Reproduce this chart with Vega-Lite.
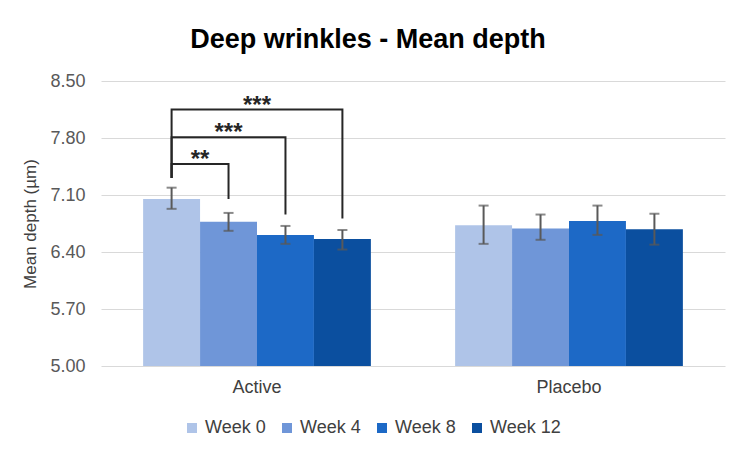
{
  "$schema": "https://vega.github.io/schema/vega-lite/v6.json",
  "width": 624,
  "height": 285,
  "autosize": {"type": "none"},
  "padding": {"left": 101, "top": 81, "right": 10, "bottom": 84},
  "config": {"view": {"stroke": null}, "font": "Liberation Sans"},
  "title": {"text": "Deep wrinkles - Mean depth", "fontSize": 27, "fontWeight": "bold", "font": "Liberation Sans", "color": "#000000", "anchor": "middle", "dx": -45, "offset": 18},
  "datasets": {
    "bars": [
      {"group": "Active", "week": "Week 0", "mean": 7.05, "lo": 6.93, "hi": 7.19},
      {"group": "Active", "week": "Week 4", "mean": 6.77, "lo": 6.66, "hi": 6.88},
      {"group": "Active", "week": "Week 8", "mean": 6.61, "lo": 6.50, "hi": 6.72},
      {"group": "Active", "week": "Week 12", "mean": 6.56, "lo": 6.43, "hi": 6.67},
      {"group": "Placebo", "week": "Week 0", "mean": 6.73, "lo": 6.50, "hi": 6.97},
      {"group": "Placebo", "week": "Week 4", "mean": 6.69, "lo": 6.55, "hi": 6.86},
      {"group": "Placebo", "week": "Week 8", "mean": 6.78, "lo": 6.61, "hi": 6.97},
      {"group": "Placebo", "week": "Week 12", "mean": 6.68, "lo": 6.49, "hi": 6.87}
    ],
    "brackets": [
      {"group": "Active", "bracket": "w4", "step": 1, "week": "Week 0", "y": 7.31},
      {"group": "Active", "bracket": "w4", "step": 2, "week": "Week 0", "y": 7.48},
      {"group": "Active", "bracket": "w4", "step": 3, "week": "Week 4", "y": 7.48},
      {"group": "Active", "bracket": "w4", "step": 4, "week": "Week 4", "y": 7.05},
      {"group": "Active", "bracket": "w8", "step": 1, "week": "Week 0", "y": 7.31},
      {"group": "Active", "bracket": "w8", "step": 2, "week": "Week 0", "y": 7.81},
      {"group": "Active", "bracket": "w8", "step": 3, "week": "Week 8", "y": 7.81},
      {"group": "Active", "bracket": "w8", "step": 4, "week": "Week 8", "y": 6.86},
      {"group": "Active", "bracket": "w12", "step": 1, "week": "Week 0", "y": 7.31},
      {"group": "Active", "bracket": "w12", "step": 2, "week": "Week 0", "y": 8.15},
      {"group": "Active", "bracket": "w12", "step": 3, "week": "Week 12", "y": 8.15},
      {"group": "Active", "bracket": "w12", "step": 4, "week": "Week 12", "y": 6.81}
    ],
    "starsBetween": [
      {"group": "Active", "week": "Week 0", "y": 7.48, "label": "**"},
      {"group": "Active", "week": "Week 4", "y": 8.15, "label": "***"}
    ],
    "starsCenter": [
      {"group": "Active", "week": "Week 4", "y": 7.81, "label": "***"}
    ]
  },
  "encoding": {
    "x": {
      "field": "group", "type": "nominal", "title": null,
      "scale": {"domain": ["Active", "Placebo"], "paddingInner": 0.27, "paddingOuter": 0.135},
      "axis": {"labelAngle": 0, "labelFontSize": 18, "labelColor": "#404040", "labelPadding": 12, "domain": false, "ticks": false, "zindex": 1}
    },
    "xOffset": {
      "field": "week", "type": "nominal",
      "scale": {"domain": ["Week 0", "Week 4", "Week 8", "Week 12"], "paddingInner": 0, "paddingOuter": 0}
    }
  },
  "layer": [
    {
      "data": {"name": "bars"},
      "mark": {"type": "bar"},
      "encoding": {
        "y": {
          "field": "mean", "type": "quantitative", "title": "Mean depth (µm)",
          "scale": {"domain": [5, 8.5], "nice": false, "zero": false},
          "axis": {"values": [5, 5.7, 6.4, 7.1, 7.8, 8.5], "format": ".2f", "labelFontSize": 18, "labelColor": "#595959", "labelPadding": 16, "domain": false, "ticks": false, "gridColor": "#d9d9d9", "gridWidth": 1, "titleFontSize": 17, "titleFontWeight": "normal", "titleColor": "#404040", "titlePadding": 10}
        },
        "y2": {"datum": 5},
        "color": {
          "field": "week", "type": "nominal",
          "scale": {"domain": ["Week 0", "Week 4", "Week 8", "Week 12"], "range": ["#afc4e8", "#6f96d8", "#1d69c6", "#0b4f9f"]},
          "legend": {"title": null, "orient": "none", "direction": "horizontal", "legendX": 82, "legendY": 338, "labelFontSize": 18, "labelColor": "#404040", "symbolType": "square", "symbolSize": 100, "symbolStrokeWidth": 0, "columnPadding": 12, "labelOffset": 4}
        }
      }
    },
    {
      "data": {"name": "bars"},
      "mark": {"type": "rule", "color": "#595959", "strokeWidth": 2},
      "encoding": {
        "y": {"field": "lo", "type": "quantitative", "title": "Mean depth (µm)"},
        "y2": {"field": "hi"}
      }
    },
    {
      "data": {"name": "bars"},
      "mark": {"type": "tick", "color": "#595959", "thickness": 2, "size": 10},
      "encoding": {"y": {"field": "lo", "type": "quantitative", "title": "Mean depth (µm)"}}
    },
    {
      "data": {"name": "bars"},
      "mark": {"type": "tick", "color": "#595959", "thickness": 2, "size": 10},
      "encoding": {"y": {"field": "hi", "type": "quantitative", "title": "Mean depth (µm)"}}
    },
    {
      "data": {"name": "brackets"},
      "mark": {"type": "line", "color": "#262626", "strokeWidth": 2},
      "encoding": {
        "y": {"field": "y", "type": "quantitative", "title": "Mean depth (µm)"},
        "detail": {"field": "bracket"},
        "order": {"field": "step"}
      }
    },
    {
      "data": {"name": "starsBetween"},
      "mark": {"type": "text", "fontSize": 24, "fontWeight": "bold", "color": "#262626", "dx": 28.5, "dy": 3, "baseline": "alphabetic", "align": "center"},
      "encoding": {
        "y": {"field": "y", "type": "quantitative", "title": "Mean depth (µm)"},
        "text": {"field": "label"}
      }
    },
    {
      "data": {"name": "starsCenter"},
      "mark": {"type": "text", "fontSize": 24, "fontWeight": "bold", "color": "#262626", "dy": 3, "baseline": "alphabetic", "align": "center"},
      "encoding": {
        "y": {"field": "y", "type": "quantitative", "title": "Mean depth (µm)"},
        "text": {"field": "label"}
      }
    }
  ]
}
